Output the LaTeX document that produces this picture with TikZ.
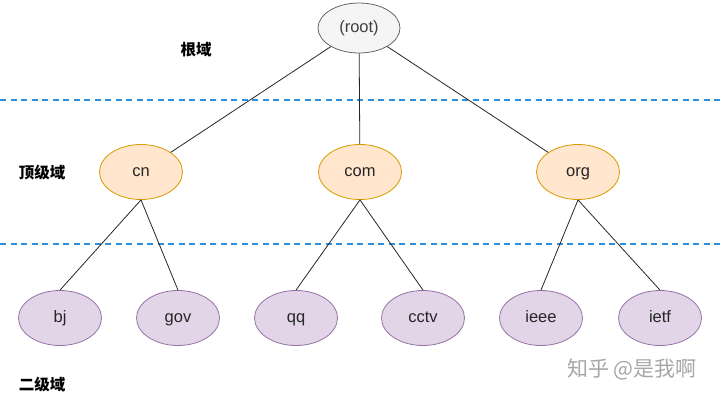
\documentclass[tikz,border=0pt]{standalone}
\usepackage{fontspec}
\setmainfont{Liberation Sans}
\newfontfamily\cjk{Noto Sans CJK SC}
\usetikzlibrary{positioning,shapes.geometric}

\definecolor{rootfill}{HTML}{F5F5F5}
\definecolor{rootline}{HTML}{666666}
\definecolor{topfill}{HTML}{FFE6CC}
\definecolor{topline}{HTML}{D79B00}
\definecolor{secfill}{HTML}{E1D5E7}
\definecolor{secline}{HTML}{9673A6}
\definecolor{sepblue}{HTML}{2D8FE0}

\begin{document}
\begin{tikzpicture}[x=1pt,y=-1pt,
    dom/.style={ellipse,draw,line width=0.8pt,inner sep=0pt,minimum width=83pt,minimum height=55pt,text=black!85,text height=8.6pt,text depth=0pt,font=\fontsize{16.5}{18}\selectfont},
    rootdom/.style={dom,fill=rootfill,draw=rootline,text=black!75,minimum width=82pt,minimum height=50pt},
    topdom/.style={dom,fill=topfill,draw=topline},
    secdom/.style={dom,fill=secfill,draw=secline},
    level/.style={font=\cjk\bfseries\fontsize{15.5}{17}\selectfont},
    sep/.style={draw=sepblue,line width=1.8pt,dash pattern=on 6pt off 4.5pt},
    link/.style={draw=black!85,line width=0.8pt}]
              \useasboundingbox (0,0) rectangle (720,400);

              \node[rootdom] (r) at (359,28) {(root)};

              \node[topdom] (t1) at (141,172) {cn};
              \node[topdom] (t2) at (360,172) {com};
              \node[topdom] (t3) at (578,172) {org};

              \node[secdom] (s1) at (60,318) {bj};
              \node[secdom] (s2) at (178,318) {gov};
              \node[secdom] (s3) at (296,318) {qq};
              \node[secdom] (s4) at (423,318) {cctv};
              \node[secdom] (s5) at (541,318) {ieee};
              \node[secdom] (s6) at (660,318) {ietf};

              \coordinate (d1a) at (0,100);
              \coordinate (d1b) at (720,100);
              \coordinate (d2a) at (0,244);
              \coordinate (d2b) at (720,244);
              \draw[sep] (d1a) -- (d1b);
              \draw[sep] (d2a) -- (d2b);

              \draw[link] (r) -- (t1);
              \draw[link] (r) -- (t2);
              \draw[link] (r) -- (t3);
              \draw[link] (t1.south) -- (s1.north);
              \draw[link] (t1.south) -- (s2.north);
              \draw[link] (t2.south) -- (s3.north);
              \draw[link] (t2.south) -- (s4.north);
              \draw[link] (t3.south) -- (s5.north);
              \draw[link] (t3.south) -- (s6.north);

              \node[level] (l1) at (196,50) {根域};
              \node[level] (l2) at (42,173) {顶级域};
              \node[level] (l3) at (42,385) {二级域};
              \node[font=\cjk\fontsize{21}{23}\selectfont,text=black!35] (wm) at (632,369) {知乎 @是我啊};
            \end{tikzpicture}
\end{document}
